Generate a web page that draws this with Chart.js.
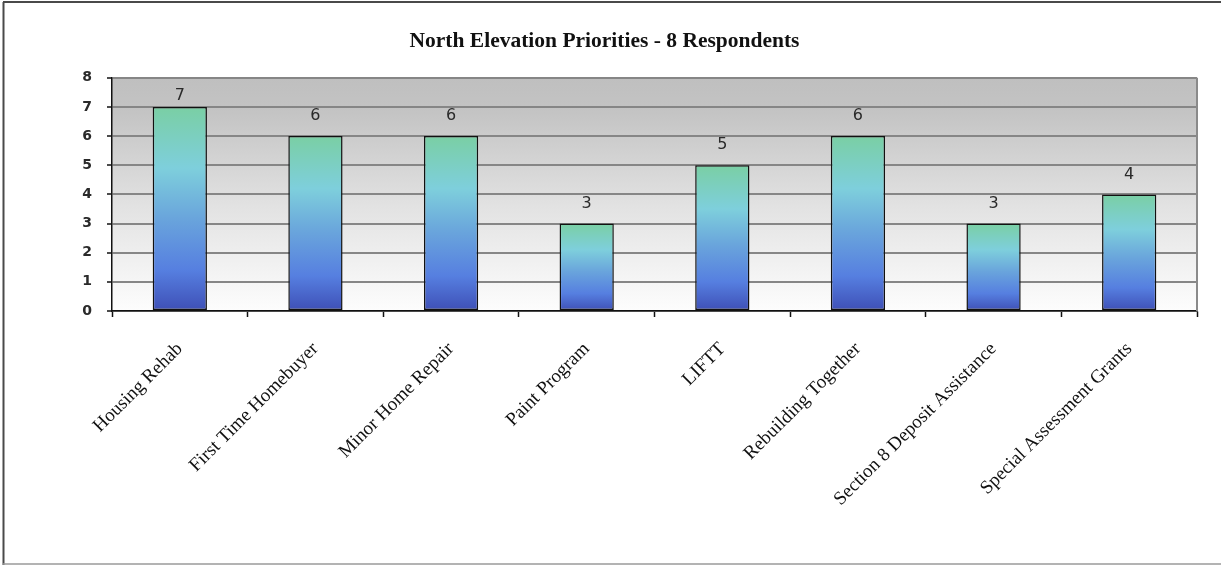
<!DOCTYPE html>
<html>
<head>
<meta charset="utf-8">
<title>North Elevation Priorities</title>
<script src="https://cdn.jsdelivr.net/npm/chart.js@4.4.1/dist/chart.umd.min.js"></script>
<style>
  html, body { margin: 0; padding: 0; background: #fff; }
  #wrap { width: 1221px; height: 565px; position: relative; }
</style>
</head>
<body>
<div id="wrap"><canvas id="chart" width="1221" height="565"></canvas></div>
<script>
// Program names and number of respondents naming each as a priority
const categories = [
  'Housing Rehab',
  'First Time Homebuyer',
  'Minor Home Repair',
  'Paint Program',
  'LIFTT',
  'Rebuilding Together',
  'Section 8 Deposit Assistance',
  'Special Assessment Grants'
];
const respondents = [7, 6, 6, 3, 5, 6, 3, 4];
const yTicks = [0, 1, 2, 3, 4, 5, 6, 7, 8];
const chartTitle = 'North Elevation Priorities - 8 Respondents';

// Vertical green-to-blue fill, spanning each bar from its top to the baseline
function barFill(ctx) {
  const chart = ctx.chart;
  const yScale = chart.scales.y;
  if (!chart.chartArea || !yScale) return '#6a9fdc';
  const top = yScale.getPixelForValue(ctx.raw);
  const base = yScale.getPixelForValue(0);
  const g = chart.ctx.createLinearGradient(0, top, 0, base);
  g.addColorStop(0.00, '#7acfa4');
  g.addColorStop(0.30, '#7ecfdc');
  g.addColorStop(0.55, '#69a4dc');
  g.addColorStop(0.80, '#567fe0');
  g.addColorStop(1.00, '#3e4fb6');
  return g;
}

// White page, outer frame and the grey-to-white plot background
const backdrop = {
  id: 'backdrop',
  beforeDraw(chart) {
    const c = chart.ctx;
    const a = chart.chartArea;
    c.save();
    c.fillStyle = '#ffffff';
    c.fillRect(0, 0, chart.width, chart.height);
    c.strokeStyle = '#4a4a4a';
    c.lineWidth = 2;
    c.beginPath();
    c.moveTo(3, 2); c.lineTo(chart.width, 2);
    c.moveTo(3.5, 2); c.lineTo(3.5, chart.height);
    c.stroke();
    c.strokeStyle = '#9a9a9a';
    c.lineWidth = 1.5;
    c.beginPath();
    c.moveTo(3, chart.height - 1); c.lineTo(chart.width, chart.height - 1);
    c.stroke();
    const g = c.createLinearGradient(0, a.top, 0, a.bottom);
    g.addColorStop(0, '#bfbfbf');
    g.addColorStop(0.15, '#c4c4c4');
    g.addColorStop(0.55, '#e2e2e2');
    g.addColorStop(1, '#fdfdfd');
    c.fillStyle = g;
    c.fillRect(a.left, a.top, a.right - a.left, a.bottom - a.top);
    c.restore();
  },
  afterDraw(chart) {
    const c = chart.ctx;
    const a = chart.chartArea;
    c.save();
    c.strokeStyle = '#8a8a8a';
    c.lineWidth = 2;
    c.beginPath();
    c.moveTo(a.right, a.top); c.lineTo(a.right, a.bottom);
    c.stroke();
    c.restore();
  }
};

// Value printed above each bar
const valueLabels = {
  id: 'valueLabels',
  afterDatasetsDraw(chart) {
    const c = chart.ctx;
    const a = chart.chartArea;
    const meta = chart.getDatasetMeta(0);
    c.save();
    c.font = '16px "DejaVu Sans", sans-serif';
    c.fillStyle = '#2a2a2a';
    c.textAlign = 'center';
    c.textBaseline = 'middle';
    meta.data.forEach((bar, i) => {
      const y = Math.max(bar.y - 20, a.top + 18);
      c.fillText(String(chart.data.datasets[0].data[i]), bar.x, y);
    });
    c.restore();
  }
};

new Chart(document.getElementById('chart'), {
  type: 'bar',
  data: {
    labels: categories,
    datasets: [{
      data: respondents,
      backgroundColor: barFill,
      borderColor: '#111111',
      borderWidth: 1.5,
      borderSkipped: false,
      barPercentage: 0.4,
      categoryPercentage: 1.0
    }]
  },
  options: {
    responsive: false,
    animation: false,
    layout: { padding: { left: 12, right: 24, top: 0, bottom: 0 } },
    plugins: {
      legend: { display: false },
      tooltip: { enabled: false },
      title: {
        display: true,
        text: chartTitle,
        color: '#111111',
        font: { family: '"Liberation Serif", "Times New Roman", serif', size: 21.5, weight: 'bold' },
        padding: { top: 29, bottom: 23 }
      }
    },
    scales: {
      x: {
        offset: true,
        grid: {
          offset: true,
          drawOnChartArea: false,
          drawTicks: true,
          tickLength: 6,
          tickColor: '#111111',
          tickWidth: 1.5
        },
        border: { display: true, color: '#111111', width: 1.5 },
        ticks: {
          autoSkip: false,
          minRotation: 45,
          maxRotation: 45,
          padding: 21,
          color: '#111111',
          font: { family: '"Liberation Serif", "Times New Roman", serif', size: 19 }
        },
        afterFit(scale) { scale.height = 254; }
      },
      y: {
        min: 0,
        max: 8,
        afterBuildTicks(scale) { scale.ticks = yTicks.map(v => ({ value: v })); },
        grid: {
          color: '#868686',
          lineWidth: 2,
          drawTicks: true,
          tickLength: 5,
          tickColor: '#111111',
          tickWidth: 1.5
        },
        border: { display: true, color: '#111111', width: 1.5 },
        ticks: {
          padding: 15,
          color: '#2a2a2a',
          font: { family: '"DejaVu Sans", sans-serif', size: 14, weight: 'bold' }
        },
        afterFit(scale) { scale.width = 100; }
      }
    }
  },
  plugins: [backdrop, valueLabels]
});
</script>
</body>
</html>
